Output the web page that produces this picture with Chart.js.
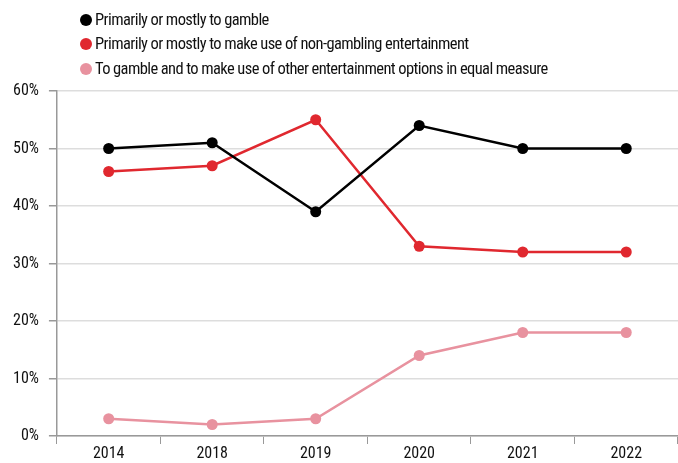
<!DOCTYPE html>
<html>
<head>
<meta charset="utf-8">
<script src="https://cdn.jsdelivr.net/npm/chart.js@4/dist/chart.umd.min.js"></script>
<style>
  html, body { margin: 0; padding: 0; background: #fff; }
  #wrap { position: relative; width: 678px; height: 463px; }
  #legend { position: absolute; left: 80px; top: 8px; font-family: 'Roboto Condensed', sans-serif; font-size: 16.5px; letter-spacing: -0.6px; color: #111; }
  #legend div { height: 24.3px; line-height: 24px; white-space: nowrap; }
  #legend span.dot { display: inline-block; width: 12px; height: 12px; border-radius: 50%; margin-right: 3px; vertical-align: -1px; }
</style>
</head>
<body>
<div id="wrap">
  <canvas id="lineChart" width="678" height="463"></canvas>
  <div id="legend"></div>
</div>
<script>
var years = ['2014', '2018', '2019', '2020', '2021', '2022'];
var gamble = [50, 51, 39, 54, 50, 50]; // primarily to gamble
var nonGambling = [46, 47, 55, 33, 32, 32]; // non-gambling entertainment
var equalMeasure = [3, 2, 3, 14, 18, 18]; // both in equal measure
var yTicks = [0, 10, 20, 30, 40, 50, 60];

var fontFamily = "'Roboto Condensed', sans-serif";

function makeSet(label, data, color) {
  return {
    label: label,
    data: data,
    borderColor: color,
    backgroundColor: color,
    borderWidth: 2.5,
    pointRadius: 5.5,
    pointHoverRadius: 5.5,
    pointBorderWidth: 0,
    fill: false,
    tension: 0
  };
}

var ctx = document.getElementById('lineChart').getContext('2d');
var lineChart = new Chart(ctx, {
  type: 'line',
  data: {
    labels: years,
    datasets: [
      makeSet('Primarily or mostly to gamble', gamble, '#000000'),
      makeSet('Primarily or mostly to make use of non-gambling entertainment', nonGambling, '#e0282f'),
      makeSet('To gamble and to make use of other entertainment options in equal measure', equalMeasure, '#e8929f')
    ]
  },
  options: {
    responsive: false,
    animation: false,
    layout: { autoPadding: false, padding: { top: 91, left: 3, right: 0, bottom: 0 } },
    plugins: {
      legend: { display: false },
      tooltip: { enabled: false }
    },
    scales: {
      x: {
        offset: true,
        afterFit: function(axis) {
          axis.height = 27;
          axis.paddingLeft = 0;
          axis.paddingRight = 0;
        },
        grid: {
          offset: true,
          drawOnChartArea: false,
          tickLength: 8,
          color: '#999999'
        },
        border: { color: '#999999', width: 1.5 },
        ticks: {
          color: '#111',
          padding: 0,
          font: { family: fontFamily, size: 16 }
        }
      },
      y: {
        min: 0,
        max: 60,
        afterBuildTicks: function(axis) {
          axis.ticks = yTicks.map(function(v) { return { value: v }; });
        },
        grid: {
          color: '#dddddd',
          lineWidth: 1.5,
          tickLength: 8,
          tickColor: '#999999'
        },
        border: { color: '#999999', width: 1.5 },
        ticks: {
          color: '#111',
          padding: 10,
          font: { family: fontFamily, size: 16 },
          callback: function(val) { return val + '%'; }
        }
      }
    }
  }
});

// legend, one entry per line
var legendBox = document.getElementById('legend');
lineChart.data.datasets.forEach(function(ds) {
  var row = document.createElement('div');
  var dot = document.createElement('span');
  dot.className = 'dot';
  dot.style.background = ds.borderColor;
  row.appendChild(dot);
  row.appendChild(document.createTextNode(ds.label));
  legendBox.appendChild(row);
});
</script>
</body>
</html>
